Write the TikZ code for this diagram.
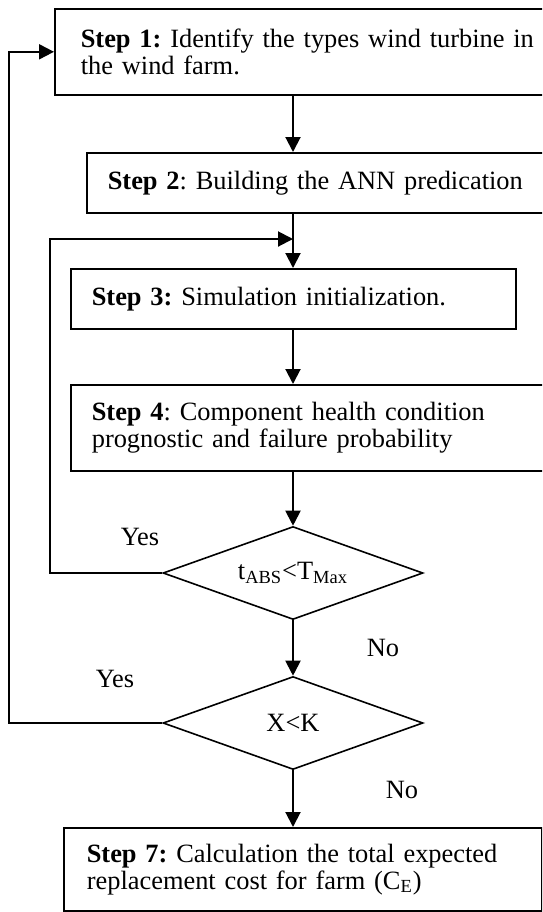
\documentclass[tikz,border=0pt]{standalone}
\usepackage{fontspec}
\setmainfont{Liberation Serif}
\usetikzlibrary{arrows.meta,shapes.geometric}
\begin{document}
\frenchspacing
\begin{tikzpicture}[x=0.5pt,y=-0.5pt,
  font=\fontsize{13.2pt}{13.5pt}\selectfont,
  stepbox/.style={draw, line width=0.8pt, rectangle, align=left,
    anchor=north west, inner ysep=0pt},
  decision/.style={draw, line width=0.8pt, diamond, shape aspect=2.8,
    inner sep=0pt, minimum width=130pt, minimum height=46.5pt},
  flow/.style={line width=1pt, -{Triangle[length=7.5pt,width=7.5pt]}},
  answer/.style={inner sep=0pt}]
\useasboundingbox (0,0) rectangle (542,912);
\clip (0,0) rectangle (542,912);

% process boxes (left aligned text)
\node[stepbox, inner xsep=13pt, text width=247pt, minimum height=43pt] (b1) at (54,8)
  {\textbf{Step 1:} Identify the types wind turbine in\\the wind farm.};
\node[stepbox, inner xsep=10.5pt, text width=236pt, minimum height=30pt] (b2) at (86,152)
  {\textbf{Step 2}: Building the ANN predication};
\node[stepbox, inner xsep=10.5pt, text width=201.5pt, minimum height=30pt] (b3) at (70,268)
  {\textbf{Step 3:} Simulation initialization.};
\node[stepbox, inner xsep=10.5pt, text width=244pt, minimum height=43pt] (b4) at (70,384)
  {\textbf{Step 4}: Component health condition\\prognostic and failure probability};

% decisions
\node[decision] (d1) at (293,573) {t\textsubscript{ABS}<T\textsubscript{Max}};
\node[decision] (d2) at (293,723) {X<K};

\node[stepbox, inner xsep=11.5pt, text width=216pt, minimum height=41.5pt] (b7) at (63,827)
  {\textbf{Step 7:} Calculation the total expected\\replacement cost for farm (C\textsubscript{E})};

% branch labels
\node[answer] (y1) at (140,537) {Yes};
\node[answer] (n1) at (383,648) {No};
\node[answer] (y2) at (115,679) {Yes};
\node[answer] (n2) at (402,790) {No};

% main flow
\coordinate (j1) at (d1 |- 0,239);
\draw[flow] (b1.south -| d1) -- (b2.north -| d1);
\draw[flow] (b2.south -| d1) -- (b3.north -| d1);
\draw[flow] (b3.south -| d1) -- (b4.north -| d1);
\draw[flow] (b4.south -| d1) -- (d1.north);
\draw[flow] (d1.south) -- (d2.north);
\draw[flow] (d2.south) -- (b7.north -| d2);

% feedback loops
\draw[flow] (d1.west) -- ++(-112,0) |- (j1);
\draw[flow] (d2.west) -- ++(-153,0) |- (b1.west);
\end{tikzpicture}
\end{document}
